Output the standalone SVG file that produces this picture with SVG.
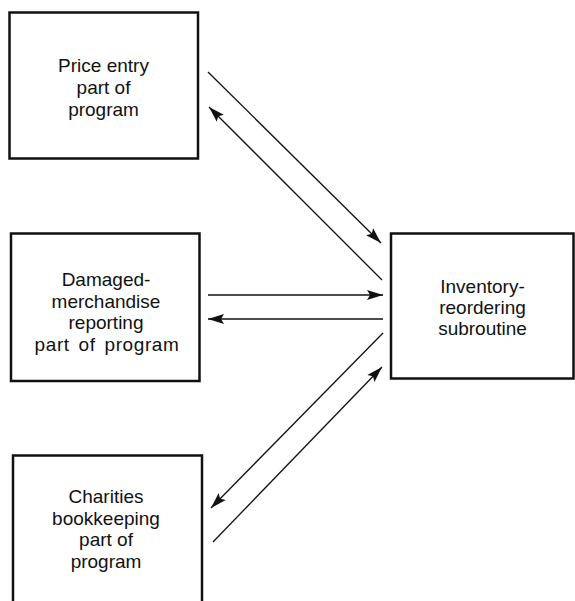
<svg xmlns="http://www.w3.org/2000/svg" width="575" height="601" viewBox="0 0 575 601">
<style>
.box{fill:none;stroke:#111;stroke-width:2.5}
.lbl{font-family:"Liberation Sans",Arial,sans-serif;font-size:19px;fill:#111;text-anchor:middle}
.conn{stroke:#111;stroke-width:1.3;fill:none;marker-end:url(#ah)}
</style>
<defs>
<marker id="ah" markerUnits="userSpaceOnUse" markerWidth="17" markerHeight="11" refX="16" refY="5.5" orient="auto">
<path d="M0,0.5 L16,5.5 L0,10.5 L3,5.5 z" fill="#111"/>
</marker>
</defs>
<rect width="575" height="601" fill="#fff"/>
<g id="price-entry">
<rect class="box" x="9.5" y="12.5" width="188.5" height="146"/>
<text class="lbl" x="103.5" y="72">Price entry</text>
<text class="lbl" x="103.5" y="94">part of</text>
<text class="lbl" x="103.5" y="116">program</text>
</g>
<g id="damaged-merchandise">
<rect class="box" x="11" y="233.5" width="188.5" height="147.5"/>
<text class="lbl" x="106" y="286">Damaged-</text>
<text class="lbl" x="106" y="307.5">merchandise</text>
<text class="lbl" x="106" y="329">reporting</text>
<text class="lbl" x="107" y="350.5" style="word-spacing:3px;letter-spacing:0.6px">part of program</text>
</g>
<g id="inventory-reordering">
<rect class="box" x="391" y="233.5" width="182.5" height="145"/>
<text class="lbl" x="482.5" y="293">Inventory-</text>
<text class="lbl" x="482.5" y="314">reordering</text>
<text class="lbl" x="482.5" y="335">subroutine</text>
</g>
<g id="charities-bookkeeping">
<rect class="box" x="13" y="455.5" width="189" height="160"/>
<text class="lbl" x="106" y="503">Charities</text>
<text class="lbl" x="106" y="524.5">bookkeeping</text>
<text class="lbl" x="106" y="546">part of</text>
<text class="lbl" x="106" y="567.5">program</text>
</g>
<g id="connectors">
<line class="conn" x1="208" y1="72" x2="381" y2="243"/>
<line class="conn" x1="382" y1="280" x2="209" y2="107"/>
<line class="conn" x1="208" y1="295" x2="383" y2="295"/>
<line class="conn" x1="383" y1="319" x2="208" y2="319"/>
<line class="conn" x1="383" y1="333" x2="211" y2="508"/>
<line class="conn" x1="213" y1="542" x2="382" y2="367"/>
</g>
</svg>
